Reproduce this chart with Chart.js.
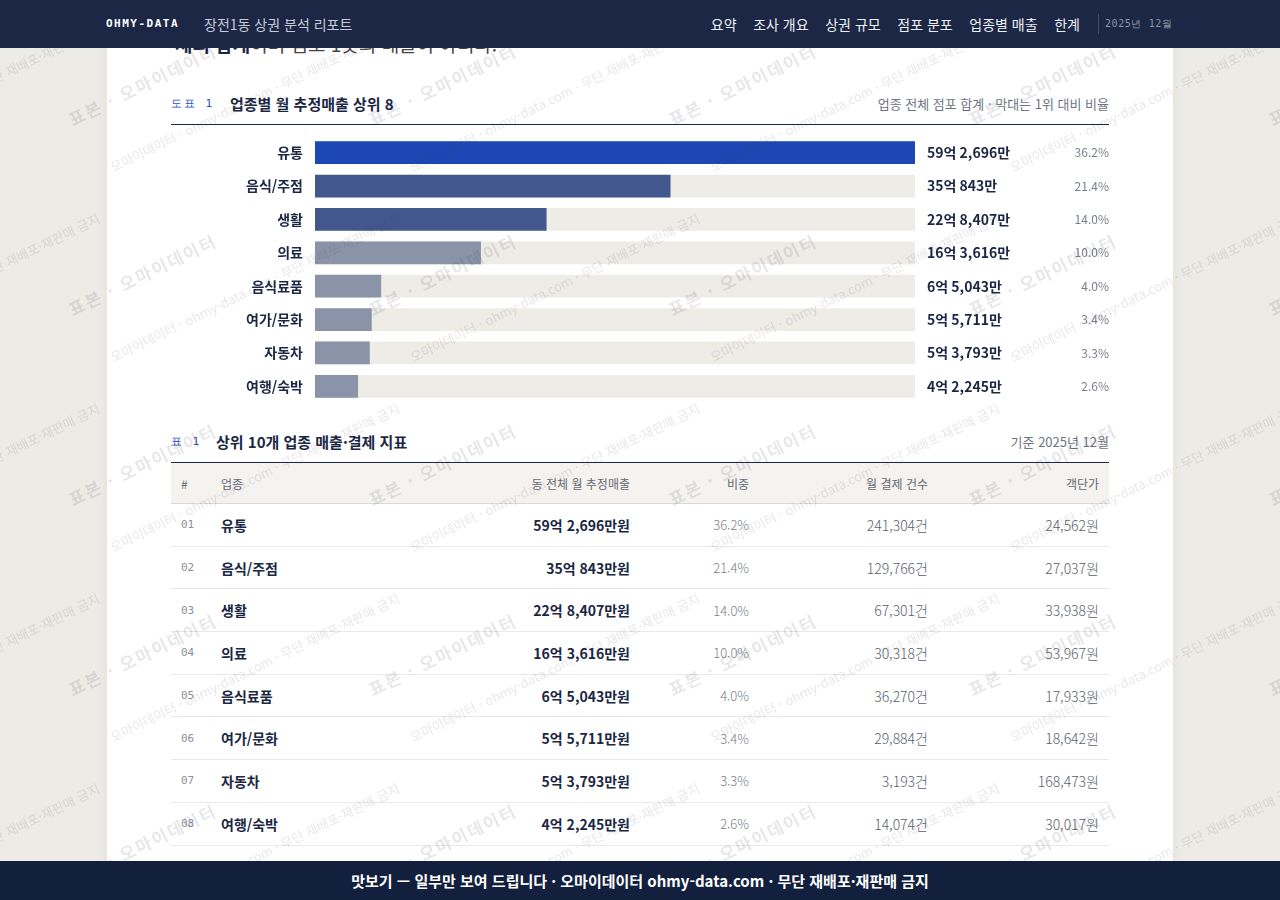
<!DOCTYPE html>
<html lang="ko">
<head>
<meta charset="utf-8">
<title>장전1동 상권 분석 리포트</title>
<script src="https://cdn.jsdelivr.net/npm/chart.js@4.4.1/dist/chart.umd.min.js"></script>
<style>
  body { margin: 0; background: #ecebe6; font-family: "Noto Sans CJK KR", "Noto Sans", sans-serif; color: #1b2744; overflow: hidden; }
  .paper { position: absolute; left: 107px; top: 0; width: 1066px; height: 900px; background: #fff; box-shadow: 0 0 10px rgba(0,0,0,0.06); }
  .top { position: fixed; top: 0; left: 0; right: 0; height: 48px; background: #1b2744; z-index: 20; }
  .brand { position: absolute; left: 106px; top: 0; line-height: 48px; font-family: "DejaVu Sans Mono", monospace; font-weight: bold; font-size: 11px; letter-spacing: 1.5px; color: #fff; }
  .doc { position: absolute; left: 204px; top: 0; line-height: 48px; font-size: 14px; color: #c5cbd8; }
  .nav { position: absolute; right: 200px; top: 0; line-height: 48px; font-size: 14px; color: #eef0f5; display: flex; gap: 16.6px; }
  .sep { position: absolute; left: 1098px; top: 14px; width: 1px; height: 20px; background: rgba(255,255,255,0.18); }
  .when { position: absolute; left: 1105px; top: 0; line-height: 48px; font-family: "DejaVu Sans Mono", monospace; font-size: 10px; letter-spacing: 0.6px; color: #8a93a8; }
  .lead { position: absolute; left: 175px; top: 30px; font-size: 19px; line-height: 28px; color: #444; }
  .lead b { color: #1b2744; }
  .cap { position: absolute; left: 171px; width: 938px; height: 20px; }
  .cap .no { position: absolute; left: 0; top: 0; line-height: 20px; font-family: "DejaVu Sans Mono", monospace; font-size: 11px; letter-spacing: 2px; color: #2a52c9; }
  .cap .tt { position: absolute; top: 0; line-height: 20px; font-size: 15px; font-weight: bold; color: #1b2744; }
  .cap .nt { position: absolute; right: 0; top: 0; line-height: 20px; font-size: 13px; color: #6f7482; }
  .rule { position: absolute; left: 171px; width: 938px; height: 1px; background: #1b2744; }
  .chartbox { position: absolute; left: 171px; top: 126px; width: 938px; height: 280px; }
  table { position: absolute; left: 171px; top: 463px; width: 938px; border-collapse: collapse; table-layout: fixed; }
  th { height: 40px; background: #f4f3ef; font-size: 12px; font-weight: normal; color: #666a74; border-bottom: 1px solid #dcd9d2; padding: 0 10px; }
  td { height: 42.7px; box-sizing: border-box; border-bottom: 1px solid #ebe9e4; padding: 0 10px; font-size: 14px; font-weight: 300; color: #5a5f6b; }
  .l { text-align: left; } .r { text-align: right; }
  td.idx { font-family: "DejaVu Sans Mono", monospace; font-size: 11px; color: #8a8f9a; }
  td.nm, td.sl { font-weight: bold; color: #1b2744; }
  td.sh { color: #7a7e89; font-size: 13px; }
  .foot { position: fixed; left: 0; right: 0; bottom: 0; height: 39px; line-height: 39px; background: #13203d; color: #fff; font-size: 15px; font-weight: bold; text-align: center; z-index: 20; }
  .wm { position: fixed; inset: 0; z-index: 10; pointer-events: none; overflow: hidden; }
  .wm div { position: absolute; white-space: nowrap; transform-origin: left bottom; transform: rotate(-26deg); color: rgba(70,72,90,0.13); }
  .wm .big { font-size: 17px; font-weight: bold; letter-spacing: 2px; }
  .wm .small { font-size: 13px; }
</style>
</head>
<body>
<div class="paper"></div>

<div class="top">
  <div class="brand">OHMY-DATA</div>
  <div class="doc">장전1동 상권 분석 리포트</div>
  <div class="nav"><span>요약</span><span>조사 개요</span><span>상권 규모</span><span>점포 분포</span><span>업종별 매출</span><span>한계</span></div>
  <div class="sep"></div>
  <div class="when">2025년 12월</div>
</div>

<div class="lead"><b>체의 합계</b>이며 점포 1곳의 매출이 아니다.</div>

<div class="cap" style="top:94px">
  <span class="no">도표 1</span>
  <span class="tt" style="left:59px">업종별 월 추정매출 상위 8</span>
  <span class="nt">업종 전체 점포 합계 · 막대는 1위 대비 비율</span>
</div>
<div class="rule" style="top:124px"></div>
<div class="chartbox"><canvas id="salesChart"></canvas></div>

<div class="cap" style="top:432px">
  <span class="no">표 1</span>
  <span class="tt" style="left:45px">상위 10개 업종 매출·결제 지표</span>
  <span class="nt">기준 2025년 12월</span>
</div>
<div class="rule" style="top:462px"></div>
<table id="salesTable">
  <colgroup><col style="width:40px"><col style="width:189px"><col style="width:240px"><col style="width:119px"><col style="width:179px"><col style="width:171px"></colgroup>
  <thead><tr><th class="l">#</th><th class="l">업종</th><th class="r">동 전체 월 추정매출</th><th class="r">비중</th><th class="r">월 결제 건수</th><th class="r">객단가</th></tr></thead>
  <tbody id="rows"></tbody>
</table>

<div class="wm" id="wm"></div>
<div class="foot">맛보기 — 일부만 보여 드립니다 · 오마이데이터 ohmy-data.com · 무단 재배포·재판매 금지</div>

<script>
// 업종별 월 추정매출 (단위: 만원)
const categories = ['유통', '음식/주점', '생활', '의료', '음식료품', '여가/문화', '자동차', '여행/숙박'];
const salesManwon = [592696, 350843, 228407, 163616, 65043, 55711, 53793, 42245];
const sharePct = [36.2, 21.4, 14.0, 10.0, 4.0, 3.4, 3.3, 2.6];
const monthlyPayments = [241304, 129766, 67301, 30318, 36270, 29884, 3193, 14074];
const pricePerCustomer = [24562, 27037, 33938, 53967, 17933, 18642, 168473, 30017];

const barColors = ['#1c47b5', '#42578e', '#42578e', '#8a93a8', '#8a93a8', '#8a93a8', '#8a93a8', '#8a93a8'];
const trackColor = '#eeece6';
const fontFamily = '"Noto Sans CJK KR", "Noto Sans", sans-serif';

function formatEok(v) {
    const eok = Math.floor(v / 10000);
    const man = v % 10000;
    return `${eok}억 ${man.toLocaleString('en-US')}만`;
}

// value + share labels on the right side of the bars
const sideLabels = {
    id: 'sideLabels',
    afterDatasetsDraw(chart) {
        const ctx = chart.ctx;
        const meta = chart.getDatasetMeta(1);
        ctx.save();
        ctx.textBaseline = 'middle';
        meta.data.forEach((bar, i) => {
            ctx.font = `bold 14px ${fontFamily}`;
            ctx.fillStyle = '#1b2744';
            ctx.textAlign = 'left';
            ctx.fillText(formatEok(salesManwon[i]), chart.chartArea.right + 12, bar.y);
            ctx.font = `12px ${fontFamily}`;
            ctx.fillStyle = '#7a7f8c';
            ctx.textAlign = 'right';
            ctx.fillText(sharePct[i].toFixed(1) + '%', chart.width, bar.y);
        });
        ctx.restore();
    }
};

const maxSales = Math.max(...salesManwon);

new Chart(document.getElementById('salesChart'), {
    type: 'bar',
    data: {
        labels: categories,
        datasets: [
            {
                label: 'track',
                data: categories.map(() => maxSales),
                backgroundColor: trackColor,
                barThickness: 22,
                grouped: false,
                order: 1
            },
            {
                label: '월 추정매출',
                data: salesManwon,
                backgroundColor: barColors,
                barThickness: 22,
                grouped: false,
                order: 0
            }
        ]
    },
    options: {
        indexAxis: 'y',
        responsive: true,
        maintainAspectRatio: false,
        animation: false,
        layout: { padding: { top: 10, bottom: 3, left: 0, right: 194 } },
        plugins: { legend: { display: false }, tooltip: { enabled: false } },
        scales: {
            x: { min: 0, max: maxSales, display: false },
            y: {
                grid: { display: false, drawTicks: false },
                border: { display: false },
                ticks: {
                    padding: 12,
                    color: '#1b2744',
                    font: { family: fontFamily, size: 14, weight: 'bold' }
                },
                afterFit(scale) {
                    scale.width = 144;
                    scale.paddingTop = 0;
                    scale.paddingBottom = 0;
                }
            }
        }
    },
    plugins: [sideLabels]
});

// table rows
const tbody = document.getElementById('rows');
categories.forEach((name, i) => {
    const row = document.createElement('tr');
    row.innerHTML = `
        <td class="l idx">${String(i + 1).padStart(2, '0')}</td>
        <td class="l nm">${name}</td>
        <td class="r sl">${formatEok(salesManwon[i])}원</td>
        <td class="r sh">${sharePct[i].toFixed(1)}%</td>
        <td class="r">${monthlyPayments[i].toLocaleString('en-US')}건</td>
        <td class="r">${pricePerCustomer[i].toLocaleString('en-US')}원</td>
    `;
    tbody.appendChild(row);
});

// watermark tiles
const wm = document.getElementById('wm');
for (let y = -60; y < 1000; y += 190) {
    for (let x = -225; x < 1300; x += 300) {
        const big = document.createElement('div');
        big.className = 'big';
        big.textContent = '표본 · 오마이데이터';
        big.style.left = x + 'px';
        big.style.top = (y - 24) + 'px';
        wm.appendChild(big);
        const small = document.createElement('div');
        small.className = 'small';
        small.textContent = '오마이데이터 · ohmy-data.com · 무단 재배포·재판매 금지';
        small.style.left = (x + 40) + 'px';
        small.style.top = (y + 45 - 18) + 'px';
        wm.appendChild(small);
    }
}
</script>
</body>
</html>
